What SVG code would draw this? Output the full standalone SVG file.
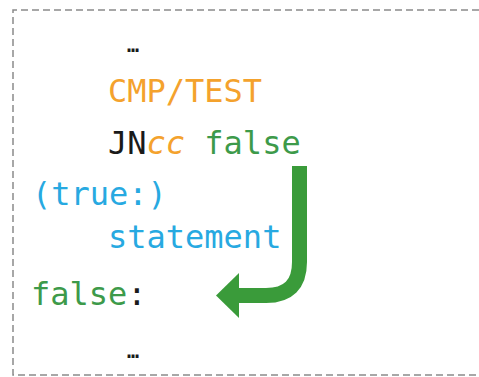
<svg xmlns="http://www.w3.org/2000/svg" width="479" height="377" viewBox="0 0 479 377">
<style>
.code{font-family:"DejaVu Sans Mono","Liberation Mono",monospace;font-size:32px}
.k{fill:#1a1a1a}.o{fill:#f4a22d}.g{fill:#3d9a4a}.b{fill:#27a9e1}
.dots{font-family:"DejaVu Sans Mono",monospace;font-size:20px;font-weight:bold;fill:#1a1a1a}
.border{fill:none;stroke:#8a8a8a;stroke-width:1.5;stroke-dasharray:7 4}
</style>
<path class="border" d="M479,10 H13 V375 H479"/>
<g id="dots-top"><text class="dots" x="127" y="52">…</text></g>
<g id="cmp"><text class="code o" x="108" y="102">CMP/TEST</text></g>
<g id="jncc"><text class="code" x="108" y="154"><tspan class="k">JN</tspan><tspan class="o" font-style="italic">cc</tspan><tspan class="g"> false</tspan></text></g>
<g id="true"><text class="code b" x="32" y="205">(true:)</text></g>
<g id="statement"><text class="code b" x="108" y="248">statement</text></g>
<g id="false"><text class="code" x="31" y="305"><tspan class="g">false</tspan><tspan class="k">:</tspan></text></g>
<g id="dots-bottom"><text class="dots" x="127" y="358">…</text></g>
<g id="connectors">
<path d="M299.5,166 V262 Q299.5,295.5 266,295.5 H236" fill="none" stroke="#3a9b3a" stroke-width="15"/>
<polygon points="216,295.5 239,273 239,318" fill="#3a9b3a"/>
</g>
</svg>
